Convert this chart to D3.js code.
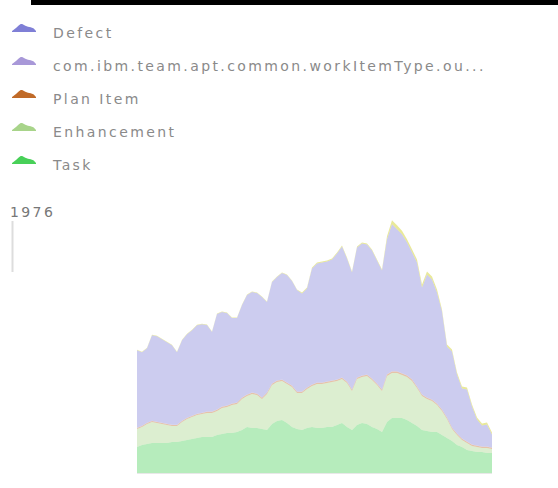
<!DOCTYPE html>
<html>
<head>
<meta charset="utf-8">
<script src="https://cdn.jsdelivr.net/npm/d3@7"></script>
<style>
  body { margin: 0; background: #fff; }
  svg { display: block; }
  text { font-family: "DejaVu Sans", sans-serif; }
</style>
</head>
<body>
<div id="graph"></div>
<script>
// series, bottom to top of the stack
var keys = ["Task", "Enhancement", "Plan Item", "com.ibm.team.apt.common.workItemType.ou...", "Defect", "Other"];
var colors = ["#48d058", "#a8d48a", "#c06a28", "#a898d8", "#7f7fd6", "#c8c800"];

// legend rows, top to bottom
var legendNames = ["Defect", "com.ibm.team.apt.common.workItemType.ou...", "Plan Item", "Enhancement", "Task"];

var task = [208,224,232,240,240,240,240,248,248,256, 264,272,280,288,288,288,304,312,320,320,
            328,344,368,360,360,352,344,392,416,424, 400,368,352,344,360,368,360,360,368,368,
            384,400,368,344,384,400,392,368,352,328, 408,440,440,440,424,400,376,344,336,328,
            328,304,280,256,224,208,184,176,168,168, 160,160];
var enhancement = [144,144,160,168,160,152,144,128,128,152, 168,176,184,184,192,192,192,208,208,224,
            224,248,248,272,264,240,288,312,312,312, 312,320,288,296,312,328,352,352,352,360,
            352,352,352,312,368,368,384,376,352,328, 368,360,360,344,344,336,304,272,256,248,
            216,192,152,96,80,56,56,40,40,32, 40,32];
var planItem = [8,8,8,8,8,8,8,8,8,8, 8,8,8,8,10,10,10,10,10,10,
            10,10,10,10,10,10,10,10,10,10, 10,10,10,10,10,10,10,10,10,10,
            10,10,10,10,10,10,10,10,10,10, 12,12,12,12,12,12,10,10,10,10,
            10,10,10,10,10,10,10,10,10,10, 10,10];
var comIbm = [2,2,2,2,2,2,2,2,2,2, 2,2,2,2,2,2,2,2,2,2,
            2,2,2,2,2,2,2,2,2,2, 2,2,2,2,2,2,2,2,2,2,
            2,2,2,2,2,2,2,2,2,2, 2,2,2,2,2,2,2,2,2,2,
            2,2,2,2,2,2,2,2,2,2, 2,2];
var defect = [620,588,596,684,684,668,652,636,580,644, 668,684,708,708,692,636,764,756,740,684,
            676,740,796,804,804,804,724,812,828,852, 860,836,812,784,792,928,952,960,960,968,
            1008,1048,984,936,1040,1056,1040,1024,984,952, 1080,1176,1136,1112,1064,1016,992,856,984,960,
            888,784,568,608,472,400,416,304,208,168, 176,104];
var other = [4,4,4,4,4,4,4,4,4,4, 4,4,4,4,4,4,4,4,4,4,
            4,4,4,4,4,4,4,4,4,4, 4,4,4,8,8,8,8,8,8,8,
            8,8,8,8,8,8,8,8,8,8, 24,32,32,28,24,24,24,24,24,24,
            24,16,16,16,16,16,16,16,16,16, 16,16];

// small mountain shape for the legend icons
var iconShape = [1, 3, 5, 8, 8, 6, 5, 5, 4, 1];
var maxLabel = "1976";

var W = 558, H = 488;
var svg = d3.select("#graph").append("svg")
    .attr("width", W)
    .attr("height", H);

// black bar at the top
svg.append("rect")
    .attr("x", 31).attr("y", 0)
    .attr("width", W - 31).attr("height", 5)
    .attr("fill", "#000");

// legend
var iconX = d3.scaleLinear().domain([0, iconShape.length - 1]).range([12, 36]);
var iconY = d3.scaleLinear().domain([0, 8]).range([0, -8]);
var iconArea = d3.area()
    .curve(d3.curveBasis)
    .x((d, i) => iconX(i))
    .y0(0)
    .y1(d => iconY(d));

var legend = svg.selectAll(".legend")
  .data(legendNames)
  .enter()
  .append("g")
    .attr("class", "legend")
    .attr("transform", (d, i) => `translate(0, ${32 + i * 33})`);

legend.append("path")
    .attr("d", iconArea(iconShape))
    .attr("fill", d => colors[keys.indexOf(d)]);

legend.append("text")
    .attr("x", 53)
    .attr("y", 6)
    .style("font-size", "14px")
    .style("letter-spacing", "2.4px")
    .attr("fill", "#8a8a8a")
    .text(d => d);

// value label + marker
svg.append("text")
    .attr("x", 10)
    .attr("y", 217)
    .style("font-size", "14px")
    .style("letter-spacing", "2.4px")
    .attr("fill", "#777")
    .text(maxLabel);

svg.append("line")
    .attr("x1", 12.5).attr("x2", 12.5)
    .attr("y1", 221).attr("y2", 272)
    .attr("stroke", "#ddd")
    .attr("stroke-width", 2);

// stacked areas
var series = [task, enhancement, planItem, comIbm, defect, other];
var rows = task.map((d, i) => {
  var r = { i: i };
  keys.forEach((k, j) => { r[k] = series[j][i]; });
  return r;
});

var x = d3.scaleLinear().domain([0, task.length - 1]).range([137, 492]);
var y = d3.scaleLinear().domain([0, 2000]).range([473, 223]);

var stack = d3.stack().keys(keys);
var area = d3.area()
    .x(d => x(d.data.i))
    .y0(d => y(d[0]))
    .y1(d => y(d[1]));

svg.selectAll(".layer")
  .data(stack(rows))
  .enter()
  .append("path")
    .attr("class", "layer")
    .attr("d", area)
    .attr("fill", (d, i) => colors[i])
    .attr("fill-opacity", 0.4);

// baseline
svg.append("line")
    .attr("x1", x(0)).attr("x2", x(task.length - 1))
    .attr("y1", y(0) + 0.5).attr("y2", y(0) + 0.5)
    .attr("stroke", "#e8e8e8");
</script>
</body>
</html>
